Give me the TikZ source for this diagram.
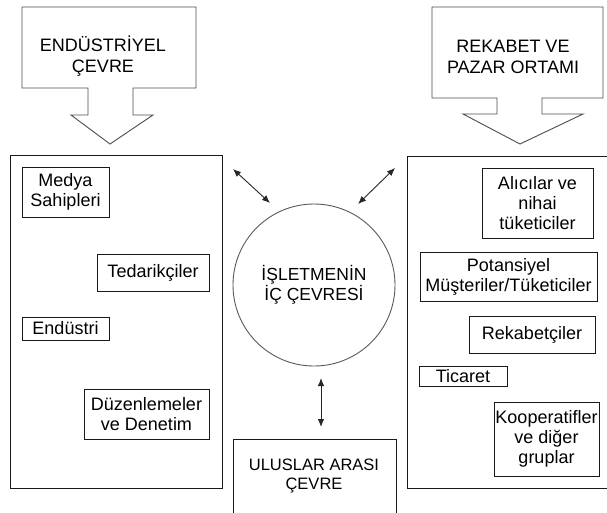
\documentclass[tikz,border=0pt]{standalone}
\usepackage{fontspec}
\setmainfont{Liberation Sans}
\usetikzlibrary{arrows.meta}

\tikzset{
  edge/.style={draw=black!90, line width=0.9pt},
  pane/.style={edge, line width=1pt, inner sep=0pt},
  ibox/.style={edge, inner sep=0pt, align=center,
    font=\fontsize{18}{20}\selectfont},
  callout/.style={draw=black!70, line width=0.9pt},
  calltext/.style={align=center, inner sep=0pt,
    font=\fontsize{18}{21}\selectfont},
  biarrow/.style={{Latex[length=8pt,width=6.5pt]}-{Latex[length=8pt,width=6.5pt]},
    line width=0.9pt, black!85},
}

\begin{document}
\begin{tikzpicture}[x=1pt, y=-1pt]
  \useasboundingbox (0,0) rectangle (607,512);
  \clip (0,0) rectangle (607,512);

  % callout arrows at the top
  \draw[callout] (22,7) -- (196,7) -- (196,88) -- (133,88) -- (133,115)
    -- (153,115) -- (110,144) -- (71,115) -- (88,115) -- (88,88)
    -- (22,88) -- cycle;
  \node[calltext] (endtitle) at (103,56) {ENDÜSTRİYEL\\ÇEVRE};

  \draw[callout] (432,7) -- (603,7) -- (603,98) -- (542,98) -- (542,114)
    -- (583,114) -- (520,144) -- (463,114) -- (497,114) -- (497,98)
    -- (432,98) -- cycle;
  \node[calltext] (mkttitle) at (513,57) {REKABET VE\\PAZAR ORTAMI};

  % large side panels
  \node[pane, minimum width=212pt, minimum height=333pt] (left) at (116,321.5) {};
  \node[pane, minimum width=220pt, minimum height=332pt] (right) at (517,322) {};

  % left panel items
  \node[ibox, minimum width=87pt, minimum height=50pt] (medya) at (65.5,192) {Medya\\Sahipleri};
  \node[ibox, minimum width=112pt, minimum height=37pt] (tedarik) at (153,272.5) {Tedarikçiler};
  \node[ibox, minimum width=87pt, minimum height=23pt] (endustri) at (65.5,328.5) {Endüstri};
  \node[ibox, minimum width=125pt, minimum height=50pt] (duzen) at (146.5,414) {Düzenlemeler\\ve Denetim};

  % right panel items
  \node[ibox, minimum width=111pt, minimum height=70pt] (alici) at (537.5,203) {Alıcılar ve\\nihai\\tüketiciler};
  \node[ibox, minimum width=177pt, minimum height=49pt] (potans) at (508.5,276.5) {Potansiyel\\Müşteriler/Tüketiciler};
  \node[ibox, minimum width=126pt, minimum height=37pt] (rekabet) at (532,334.5) {Rekabetçiler};
  \node[ibox, minimum width=88pt, minimum height=20pt] (ticaret) at (463,376) {Ticaret};
  \node[ibox, minimum width=105pt, minimum height=74pt] (koop) at (546.5,439) {Kooperatifler\\ve diğer\\gruplar};

  % core of the firm
  \node[circle, draw=black!65, line width=0.9pt, minimum size=162pt, inner sep=0pt,
    align=center, font=\fontsize{17.5}{20}\selectfont] (core) at (314,285)
    {İŞLETMENİN\\İÇ ÇEVRESİ};

  % international environment
  \node[pane, minimum width=163pt, minimum height=90pt, anchor=north west] (intl) at (233,439) {};
  \node[calltext, font=\fontsize{16.5}{19}\selectfont] (intltitle) at (314,476) {ULUSLAR ARASI\\ÇEVRE};

  % two-way links
  \coordinate (lA) at (233,169);
  \coordinate (lB) at (270,203);
  \coordinate (rA) at (395,168);
  \coordinate (rB) at (358,204);
  \coordinate (bA) at (321,378);
  \coordinate (bB) at (321,427);
  \draw[biarrow] (lA) -- (lB);
  \draw[biarrow] (rA) -- (rB);
  \draw[biarrow] (bA) -- (bB);
\end{tikzpicture}
\end{document}
